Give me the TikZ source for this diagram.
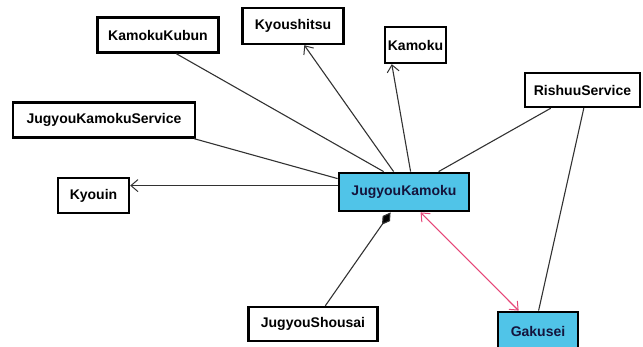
\documentclass[tikz,border=0pt]{standalone}
\usepackage{fontspec}
\setmainfont{Liberation Sans}
\usetikzlibrary{arrows.meta,calc}
\definecolor{boxblue}{RGB}{80,196,232}
\definecolor{navy}{RGB}{20,20,60}
\definecolor{linkpink}{RGB}{230,70,120}
\definecolor{conn}{RGB}{50,50,50}
\tikzset{
  cls/.style={draw=black,line width=2.4pt,fill=white,inner sep=0pt,font=\fontsize{14}{16}\selectfont\bfseries},
  hl/.style={cls,fill=boxblue,line width=2.8pt,text=navy},
  conn/.style={draw=conn,line width=1.1pt},
  nav/.style={conn,-{Straight Barb[length=7pt,width=12pt,line width=1pt]}},
}
\begin{document}
\begin{tikzpicture}[x=1pt,y=-1pt]
\useasboundingbox (0,0) rectangle (643,347);
\node[cls,minimum width=121pt,minimum height=35pt] (kk) at (158,35) {KamokuKubun};
\node[cls,minimum width=101pt,minimum height=36pt] (ky) at (293,26) {Kyoushitsu};
\node[cls,minimum width=61pt,minimum height=36pt] (ka) at (415.5,45) {Kamoku};
\node[cls,minimum width=115pt,minimum height=34pt] (rs) at (582.5,90) {RishuuService};
\node[cls,minimum width=182pt,minimum height=35pt] (jks) at (104,120) {JugyouKamokuService};
\node[cls,minimum width=71pt,minimum height=35pt] (kyo) at (93.5,195.5) {Kyouin};
\node[hl,minimum width=130pt,minimum height=38pt] (jk) at (404,192) {JugyouKamoku};
\node[cls,minimum width=129pt,minimum height=34pt] (js) at (313,324) {JugyouShousai};
\node[hl,minimum width=80pt,minimum height=38pt] (ga) at (538,331) {Gakusei};

% connectors
\draw[conn] ($(kk.south west)+(80,0)$) -- ($(jk.north west)+(46,0)$);
\draw[nav] ($(jk.north west)+(56,0)$) -- ($(ky.south west)+(63,0)$);
\draw[nav] ($(jk.north west)+(73,0)$) -- ($(ka.south west)+(8,0)$);
\draw[conn] ($(rs.south west)+(27,0)$) -- ($(jk.north west)+(101,0)$);
\draw[conn] ($(jks.south east)+(-2,0)$) -- ($(jk.north west)+(0,7)$);
\draw[nav] ($(jk.north west)+(0,14)$) -- (kyo.east |- {$(jk.north west)+(0,14)$});
\draw[conn,{Diamond[length=15pt,width=9pt,fill=black]}-] ($(jk.south west)+(53,0)$) -- ($(js.north west)+(78,0)$);
\draw[conn] ($(rs.south west)+(60,0)$) -- ($(ga.north west)+(42,0)$);
\draw[draw=linkpink,line width=1.1pt,{Straight Barb[length=7pt,width=12pt,line width=1pt]}-{Straight Barb[length=7pt,width=12pt,line width=1pt]}] ($(jk.south west)+(83,0)$) -- ($(ga.north west)+(22,0)$);
\end{tikzpicture}
\end{document}
